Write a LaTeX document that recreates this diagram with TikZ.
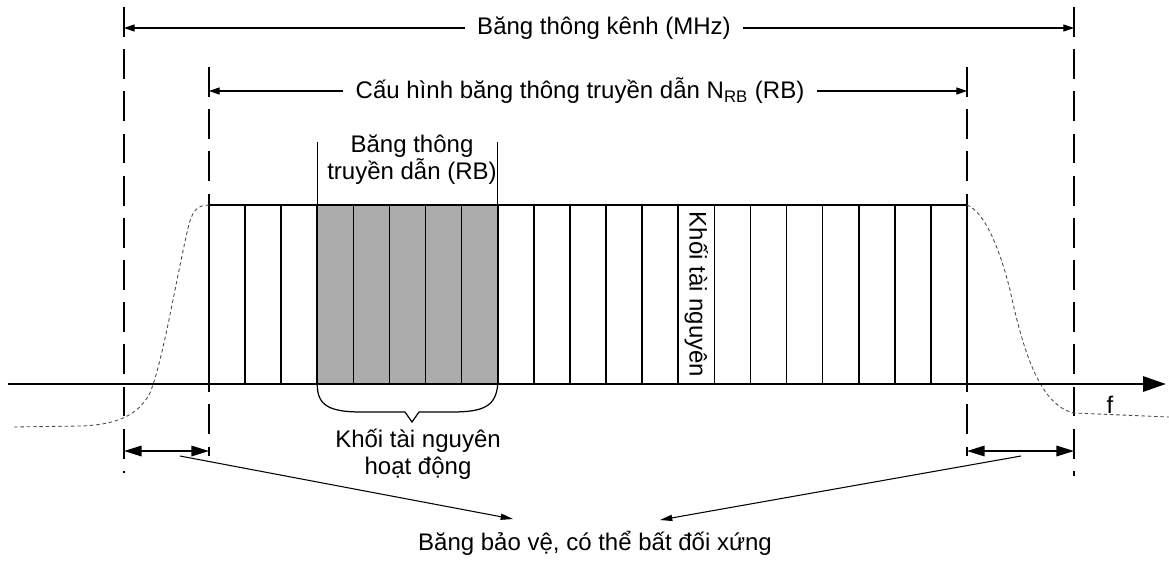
\documentclass[tikz,border=0pt]{standalone}
\usepackage{fontspec}
\setmainfont{Liberation Sans}
\usepackage{tikz}
\usetikzlibrary {arrows.meta,
                 calc,
                 positioning}
\definecolor{rbgray}{RGB}{172,172,172}
\tikzset{
        rb/.style={draw, rectangle, line width=0.9pt, minimum width=7.219mm,
                   minimum height=35.8mm, inner sep=0pt, outer sep=0pt},
        rbact/.style={rb, fill=rbgray},
        guide/.style={dash pattern=on 17pt off 7pt, line width=0.8pt},
        rolloff/.style={dash pattern=on 2pt off 1.6pt, line width=0.5pt,
                        black!70},
        dimarrow/.style={-{Triangle[length=6pt, width=4pt]}, line width=0.6pt},
        guardarrow/.style={{Triangle[length=10pt, width=6pt]}-{Triangle[length=10pt,
                           width=6pt]}, line width=0.9pt},
        ptr/.style={-{Triangle[length=7pt, width=3.5pt]}, line width=0.6pt},
        freqaxis/.style={-{Triangle[length=13pt, width=8.5pt]}, line width=1.6pt},
        lbl/.style={align=center, inner sep=0pt},
 }

\begin{document}
\begin{tikzpicture}[x=0.2mm, y=-0.2mm, font=\fontsize{13.66}{15.4}\selectfont]
    \useasboundingbox (0,0) rectangle (1169,563);
    % resource blocks
    \node[rb, anchor=north west] (b0) at (209,205) {};
    \node[rb, right=0cm of b0] (b1) {};
    \node[rb, right=0cm of b1] (b2) {};
    \node[rbact, right=0cm of b2] (b3) {};
    \node[rbact, right=0cm of b3] (b4) {};
    \node[rbact, right=0cm of b4] (b5) {};
    \node[rbact, right=0cm of b5] (b6) {};
    \node[rbact, right=0cm of b6] (b7) {};
    \node[rb, right=0cm of b7] (b8) {};
    \node[rb, right=0cm of b8] (b9) {};
    \node[rb, right=0cm of b9] (b10) {};
    \node[rb, right=0cm of b10] (b11) {};
    \node[rb, right=0cm of b11] (b12) {};
    \node[rb, right=0cm of b12] (b13) {};
    \node[rb, right=0cm of b13] (b14) {};
    \node[rb, right=0cm of b14] (b15) {};
    \node[rb, right=0cm of b15] (b16) {};
    \node[rb, right=0cm of b16] (b17) {};
    \node[rb, right=0cm of b17] (b18) {};
    \node[rb, right=0cm of b18] (b19) {};
    \node[rb, right=0cm of b19] (b20) {};
    \node[rotate=-90, inner sep=0pt] (rblbl) at (b13) {Khối tài nguyên};

    % guide lines
    \coordinate (oL1) at (124,7);  \coordinate (oL2) at (124,473);
    \coordinate (oR1) at (1074,7); \coordinate (oR2) at (1074,476);
    \coordinate (iL1) at (209,67); \coordinate (iL2) at (209,456);
    \coordinate (iR1) at (967,67); \coordinate (iR2) at (967,456);
    \draw[guide] (oL1) -- (oL2);
    \draw[guide] (oR1) -- (oR2);
    \draw[guide] (iL1) -- (iL2);
    \draw[guide] (iR1) -- (iR2);

    \node[inner xsep=6.8pt] (chbw) at (604,28) {Băng thông kênh (MHz)};
    \draw[dimarrow] (chbw.west) -- (oL1 |- chbw);
    \draw[dimarrow] (chbw.east) -- (oR1 |- chbw);
    \node[inner xsep=6.8pt] (txcfg) at (580,91)
        {Cấu hình băng thông truyền dẫn N\textsubscript{RB} (RB)};
    \draw[dimarrow] (txcfg.west) -- (iL1 |- txcfg);
    \draw[dimarrow] (txcfg.east) -- (iR1 |- txcfg);

    \node[lbl] (txbw) at (412,160) {Băng thông\\truyền dẫn (RB)};
    \coordinate (tk) at (0,142);
    \draw[line width=0.8pt] (b3.north west) -- (b3.north west |- tk);
    \draw[line width=0.8pt] (b7.north east) -- (b7.north east |- tk);

    % spectrum mask
    \draw[rolloff] (b0.north west) .. controls (196,205) and (192,212) .. (188,228)
        .. controls (174,290) and (163,360) .. (150,393)
        .. controls (138,416) and (115,425) .. (80,426) -- (13,427);
    \draw[rolloff] (b20.north east) .. controls (985,212) and (1000,250) .. (1010,290)
        .. controls (1022,345) and (1038,405) .. (1074,413) -- (1169,417);

    \coordinate (f0) at (8,384);
    \coordinate (f1) at (1166,384);
    \draw[freqaxis] (f0) -- (f1);
    \node (flbl) at (1110,405) {f};

    \draw[line width=0.7pt] (b3.south west) .. controls (317,406) and (330,412) .. (362,412)
        -- (405,412) -- (412,422) -- (419,412) -- (452,412)
        .. controls (484,412) and (496,406) .. (b7.south east);
    \node[lbl] (actlbl) at (418,454) {Khối tài nguyên\\hoạt động};

    % guard bands
    \coordinate (gy) at (0,451);
    \draw[guardarrow] (oL1 |- gy) -- (iL1 |- gy);
    \draw[guardarrow] (iR1 |- gy) -- (oR1 |- gy);
    \node[lbl] (guard) at (595,543) {Băng bảo vệ, có thể bất đối xứng};
    \coordinate (gsL) at (180,456); \coordinate (gtL) at (513,519);
    \coordinate (gsR) at (1021,456); \coordinate (gtR) at (660,520);
    \draw[ptr] (gsL) -- (gtL);
    \draw[ptr] (gsR) -- (gtR);
\end{tikzpicture}
\end{document}
